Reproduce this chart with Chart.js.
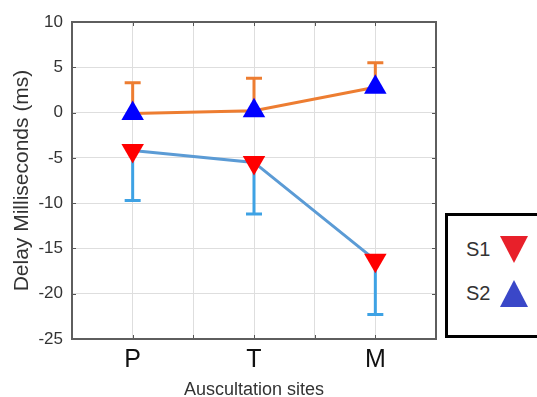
<!DOCTYPE html>
<html>
<head>
<meta charset="utf-8">
<script src="https://cdn.jsdelivr.net/npm/chart.js@4.4.1/dist/chart.umd.min.js"></script>
<style>
  html, body { margin: 0; padding: 0; background: #fff; }
  #wrap { position: relative; width: 537px; height: 397px; overflow: hidden; }
  #legend { position: absolute; left: 445px; top: 213px; width: 110px; height: 119px;
            border: 3.5px solid #000; background: #fff; font-family: "Liberation Sans", Arial, sans-serif; }
  .row { position: absolute; left: 18px; display: flex; align-items: center; }
  .lbl { font-size: 20px; color: #333; width: 34px; }
  .tri-down { width: 0; height: 0; border-left: 14.5px solid transparent; border-right: 14.5px solid transparent; border-top: 27px solid #e8202a; }
  .tri-up { width: 0; height: 0; border-left: 14.5px solid transparent; border-right: 14.5px solid transparent; border-bottom: 27px solid #3a47c8; }
</style>
</head>
<body>
<div id="wrap">
  <canvas id="c" width="537" height="397"></canvas>
  <div id="legend">
    <div class="row" style="top:20px"><span class="lbl">S1</span><span class="tri-down"></span></div>
    <div class="row" style="top:64px"><span class="lbl">S2</span><span class="tri-up"></span></div>
  </div>
</div>
<script>
// ---- data ----
const sites = ['P', 'T', 'M'];
const sitePositions = [1, 2, 3];
const s1Mean = [-4.2, -5.5, -16.3];
const s1ErrLow = [-9.7, -11.2, -22.3];
const s2Mean = [-0.1, 0.2, 2.8];
const s2ErrHigh = [3.3, 3.8, 5.5];
const yTicks = [10, 5, 0, -5, -10, -15, -20, -25];

const s1Points = sitePositions.map((x, i) => ({ x: x, y: s1Mean[i] }));
const s2Points = sitePositions.map((x, i) => ({ x: x, y: s2Mean[i] }));

const errorBarPlugin = {
  id: 'errorBars',
  beforeDatasetsDraw(chart) {
    const { ctx, scales: { x, y } } = chart;
    const bars = [
      { means: s1Mean, ends: s1ErrLow, color: '#3ea2e4' },
      { means: s2Mean, ends: s2ErrHigh, color: '#ed7d31' }
    ];
    ctx.save();
    ctx.lineWidth = 3;
    ctx.lineCap = 'butt';
    bars.forEach(b => {
      ctx.strokeStyle = b.color;
      sitePositions.forEach((p, i) => {
        const px = x.getPixelForValue(p);
        const y0 = y.getPixelForValue(b.means[i]);
        const y1 = y.getPixelForValue(b.ends[i]);
        ctx.beginPath();
        ctx.moveTo(px, y0); ctx.lineTo(px, y1);
        ctx.moveTo(px - 8, y1); ctx.lineTo(px + 8, y1);
        ctx.stroke();
      });
    });
    ctx.restore();
  }
};

const framePlugin = {
  id: 'frame',
  afterDraw(chart) {
    const { ctx, chartArea: a, scales: { x, y } } = chart;
    ctx.save();
    ctx.strokeStyle = '#555';
    ctx.lineWidth = 1;
    x.ticks.forEach(t => {
      const px = Math.round(x.getPixelForValue(t.value)) + 0.5;
      ctx.beginPath();
      ctx.moveTo(px, a.top); ctx.lineTo(px, a.top + 4);
      ctx.moveTo(px, a.bottom); ctx.lineTo(px, a.bottom - 4);
      ctx.stroke();
    });
    y.ticks.forEach(t => {
      const py = Math.round(y.getPixelForValue(t.value)) + 0.5;
      ctx.beginPath();
      ctx.moveTo(a.left, py); ctx.lineTo(a.left + 4, py);
      ctx.moveTo(a.right, py); ctx.lineTo(a.right - 4, py);
      ctx.stroke();
    });
    ctx.strokeStyle = '#5e5e5e';
    ctx.lineWidth = 2;
    ctx.strokeRect(a.left, a.top, a.right - a.left, a.bottom - a.top);
    ctx.restore();
  }
};

new Chart(document.getElementById('c'), {
  type: 'line',
  data: {
    datasets: [
      {
        label: 'S1', data: s1Points,
        borderColor: '#5b9bd5', borderWidth: 3,
        pointStyle: 'triangle', pointRotation: 180, pointRadius: 13,
        pointBackgroundColor: '#ff0000', pointBorderColor: '#ff0000', pointBorderWidth: 0
      },
      {
        label: 'S2', data: s2Points,
        borderColor: '#ed7d31', borderWidth: 3,
        pointStyle: 'triangle', pointRotation: 0, pointRadius: 13,
        pointBackgroundColor: '#0000ff', pointBorderColor: '#0000ff', pointBorderWidth: 0
      }
    ]
  },
  options: {
    responsive: false,
    animation: false,
    events: [],
    layout: { padding: { top: 22, right: 101, left: 0, bottom: 0 } },
    plugins: { legend: { display: false }, tooltip: { enabled: false } },
    scales: {
      x: {
        type: 'linear', min: 0.5, max: 3.5,
        afterFit(s) { s.height = 58; },
        afterBuildTicks(s) { s.ticks = [0.5, 1, 1.5, 2, 2.5, 3, 3.5].map(v => ({ value: v })); },
        ticks: {
          autoSkip: false, maxRotation: 0, padding: 6,
          color: '#111',
          font: { family: 'Liberation Sans, Arial, sans-serif', size: 25 },
          callback: (v) => { const i = sitePositions.indexOf(v); return i >= 0 ? sites[i] : ''; }
        },
        grid: { color: '#dedede', lineWidth: 1, drawTicks: false },
        border: { display: false },
        title: {
          display: true, text: 'Auscultation sites', color: '#333',
          font: { family: 'Liberation Sans, Arial, sans-serif', size: 18, lineHeight: 0.75 },
          padding: { top: 0, bottom: 0 }
        }
      },
      y: {
        type: 'linear', min: -25, max: 10,
        afterFit(s) { s.width = 72; },
        afterBuildTicks(s) { s.ticks = yTicks.map(v => ({ value: v })); },
        ticks: {
          padding: 9, color: '#333',
          font: { family: 'Liberation Sans, Arial, sans-serif', size: 17 }
        },
        grid: { color: '#dedede', lineWidth: 1, drawTicks: false },
        border: { display: false },
        title: {
          display: true, text: 'Delay Milliseconds (ms)', color: '#333',
          font: { family: 'Liberation Sans, Arial, sans-serif', size: 21, lineHeight: 1.2 },
          padding: { top: 10, bottom: 0 }
        }
      }
    }
  },
  plugins: [errorBarPlugin, framePlugin]
});
</script>
</body>
</html>
